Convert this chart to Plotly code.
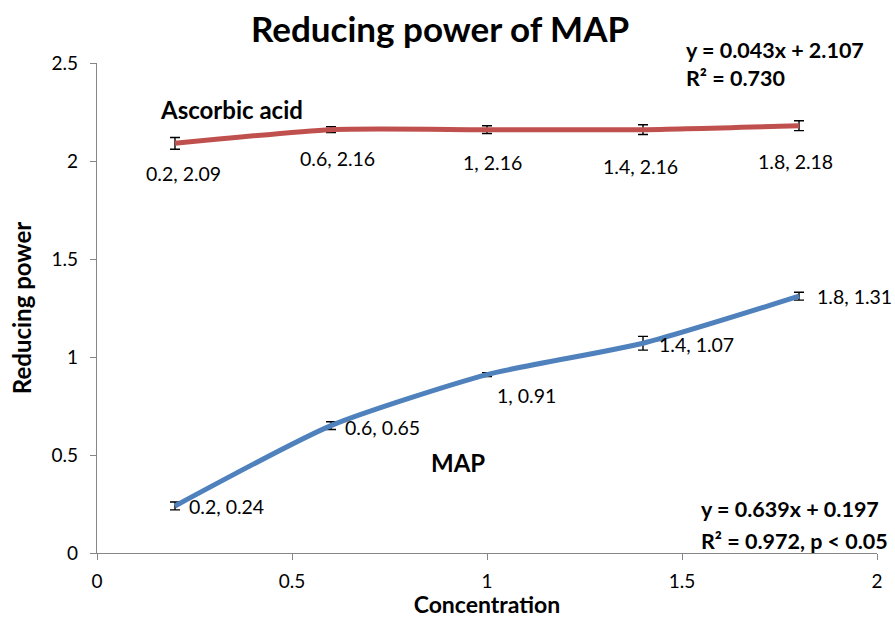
import plotly.graph_objects as go

conc = [0.2, 0.6, 1.0, 1.4, 1.8]
ascorbic = [2.09, 2.16, 2.16, 2.16, 2.18]
ascorbic_err = [0.03, 0.015, 0.02, 0.025, 0.025]
map_vals = [0.24, 0.65, 0.91, 1.07, 1.31]
map_err = [0.02, 0.02, 0.01, 0.035, 0.02]
x_ticks = [0, 0.5, 1, 1.5, 2]
x_tick_text = ["0", "0.5", "1", "1.5", "2"]
y_ticks = [0, 0.5, 1, 1.5, 2, 2.5]
y_tick_text = ["0", "0.5", "1", "1.5", "2", "2.5"]

FONT = "Lato, Open Sans, sans-serif"

def fmt(v):
    return "%g" % v

fig = go.Figure()
fig.add_trace(go.Scatter(
    x=conc, y=ascorbic, mode="lines", line=dict(color="#C0504D", width=5, shape="spline", smoothing=0.6),
    error_y=dict(type="data", array=ascorbic_err, color="black", thickness=1.4, width=5),
    showlegend=False))
fig.add_trace(go.Scatter(
    x=conc, y=map_vals, mode="lines", line=dict(color="#4F81BD", width=5, shape="spline", smoothing=0.6),
    error_y=dict(type="data", array=map_err, color="black", thickness=1.4, width=5),
    showlegend=False))

lab = dict(family=FONT, size=19.5, color="black")
asc_dx = [8, 6, 5, -3, -4]
asc_dy = [-17, -15, -19, -23, -22]
for x, y, dx, dy in zip(conc, ascorbic, asc_dx, asc_dy):
    fig.add_annotation(x=x, y=y, text="%s, %.2f" % (fmt(x), y), showarrow=False,
                       yanchor="top", xanchor="center", xshift=dx, yshift=dy, font=lab)
map_dx = [12, 12, 8, 14, 16]
map_dy = [-1, -2, -21, -1, 0]
for x, y, dx, dy in zip(conc, map_vals, map_dx, map_dy):
    fig.add_annotation(x=x, y=y, text="%s, %.2f" % (fmt(x), y), showarrow=False,
                       xanchor="left", yanchor="middle", xshift=dx, yshift=dy, font=lab)

big = dict(family=FONT, size=24, color="black")
eq = dict(family=FONT, size=21.5, color="black")

def paper_note(px, py, text, font, anchor):
    fig.add_annotation(xref="paper", yref="paper", x=(px - 97) / 780, y=(553 - py) / 490,
                       xanchor=anchor, yanchor="middle", text=text, showarrow=False, font=font)

paper_note(231, 109, "<b>Ascorbic acid</b>", big, "center")
paper_note(458, 462, "<b>MAP</b>", big, "center")
paper_note(684, 50, "<b>y = 0.043x + 2.107</b>", eq, "left")
paper_note(684, 78, "<b>R² = 0.730</b>", eq, "left")
paper_note(699, 509, "<b>y = 0.639x + 0.197</b>", eq, "left")
paper_note(699, 541, "<b>R² = 0.972, p < 0.05</b>", eq, "left")

W, H = 895, 618
fig.update_layout(
    width=W, height=H,
    margin=dict(l=97, r=18, t=63, b=65),
    paper_bgcolor="white", plot_bgcolor="white",
    title=dict(text="<b>Reducing power of MAP</b>", x=440 / W, xanchor="center",
               y=1 - 30 / H, yanchor="middle",
               font=dict(family=FONT, size=35, color="black")),
    xaxis=dict(range=[0, 2], tickvals=x_ticks, ticktext=x_tick_text, showgrid=False, zeroline=False,
               showline=True, linecolor="#868686", linewidth=1.2, ticks="outside", ticklen=6,
               tickcolor="#868686", automargin=False, ticklabelstandoff=5,
               tickfont=dict(family=FONT, size=19, color="black"),
               title=dict(text="<b>Concentration</b>", font=dict(family=FONT, size=23, color="black"), standoff=20)),
    yaxis=dict(range=[0, 2.5], tickvals=y_ticks, ticktext=y_tick_text, showgrid=False, zeroline=False,
               showline=True, linecolor="#868686", linewidth=1.2, ticks="outside", ticklen=6,
               tickcolor="#868686", automargin=False, ticklabelstandoff=8,
               tickfont=dict(family=FONT, size=19, color="black"),
               title=dict(text="<b>Reducing power</b>", font=dict(family=FONT, size=24, color="black"), standoff=13)),
)

fig.write_html("out.html", config={"displayModeBar": False},
               post_script="document.body.style.margin='0';document.body.style.overflow='hidden';")
